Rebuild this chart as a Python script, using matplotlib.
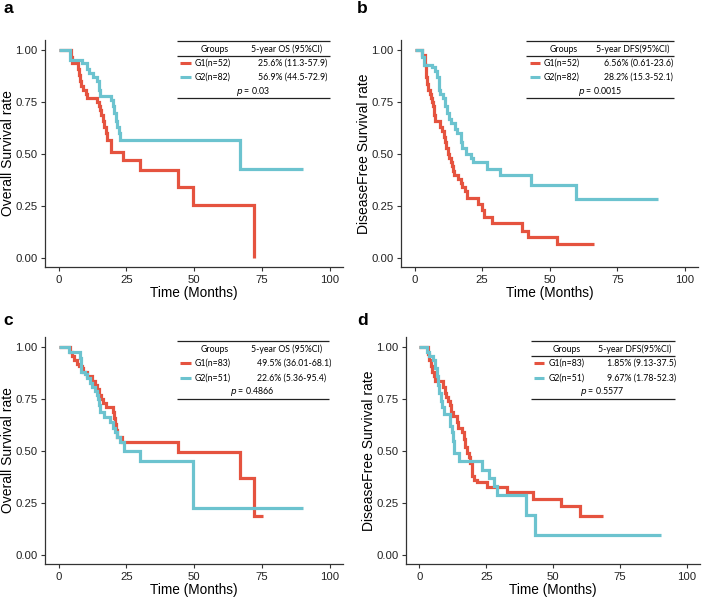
import matplotlib
matplotlib.use('Agg')
import matplotlib.pyplot as plt

# ---------- data ----------
red = '#E5533F'
cyan = '#6CC3CF'

# panel a : overall survival
a_g1_t = [0, 4.4, 4.8, 7.2, 7.6, 8.0, 8.4, 9.0, 10.0, 10.6, 14.0, 14.8, 15.3, 15.8, 16.3, 16.8, 17.3, 17.8, 19.2, 23.8, 30.0, 44.0, 49.6, 72.0]
a_g1_s = [1.0, 0.97, 0.94, 0.91, 0.88, 0.85, 0.83, 0.81, 0.79, 0.77, 0.75, 0.73, 0.71, 0.69, 0.66, 0.63, 0.60, 0.57, 0.51, 0.47, 0.425, 0.34, 0.256, 0.0]
a_g2_t = [0, 4.2, 8.5, 10.5, 11.3, 12.8, 14.0, 14.9, 15.3, 19.3, 19.9, 20.5, 21.1, 21.6, 22.2, 22.8, 67.0, 90.2]
a_g2_s = [1.0, 0.955, 0.94, 0.91, 0.89, 0.87, 0.85, 0.81, 0.78, 0.76, 0.73, 0.70, 0.66, 0.63, 0.60, 0.569, 0.427, 0.427]

# panel b : disease free survival
b_g1_t = [0, 2.8, 3.7, 4.1, 4.3, 4.7, 5.0, 5.7, 6.0, 6.4, 6.8, 7.1, 7.4, 9.6, 10.1, 10.8, 11.3, 11.8, 12.3, 12.7, 13.5, 13.9, 14.3, 14.6, 16.0, 17.0, 17.6, 18.5, 19.3, 23.6, 24.8, 25.6, 28.7, 39.6, 42.1, 52.6, 66.4]
b_g1_s = [1.0, 0.98, 0.93, 0.90, 0.87, 0.84, 0.81, 0.79, 0.77, 0.75, 0.73, 0.69, 0.66, 0.63, 0.61, 0.58, 0.56, 0.53, 0.50, 0.48, 0.46, 0.44, 0.42, 0.40, 0.38, 0.36, 0.34, 0.32, 0.29, 0.26, 0.23, 0.195, 0.165, 0.13, 0.10, 0.065, 0.065]
b_g2_t = [0, 2.8, 3.4, 6.4, 7.4, 8.4, 8.9, 9.2, 9.6, 10.5, 11.3, 12.1, 12.9, 13.5, 14.8, 15.7, 17.0, 17.5, 19.1, 20.7, 21.5, 26.7, 31.7, 43.0, 59.7, 90.0]
b_g2_s = [1.0, 0.97, 0.93, 0.92, 0.90, 0.87, 0.84, 0.81, 0.79, 0.77, 0.73, 0.70, 0.67, 0.65, 0.62, 0.60, 0.56, 0.53, 0.50, 0.48, 0.46, 0.43, 0.40, 0.35, 0.282, 0.282]

# panel c : overall survival
c_g1_t = [0, 4.2, 4.8, 5.7, 6.9, 7.6, 8.5, 9.1, 10.6, 12.2, 13.4, 14.3, 15.0, 15.5, 16.2, 17.4, 19.9, 20.3, 20.8, 21.1, 21.6, 23.2, 44.1, 66.8, 72.0, 75.4]
c_g1_s = [1.0, 0.98, 0.96, 0.94, 0.92, 0.91, 0.90, 0.88, 0.86, 0.84, 0.82, 0.80, 0.77, 0.75, 0.73, 0.71, 0.69, 0.66, 0.63, 0.60, 0.57, 0.545, 0.493, 0.37, 0.185, 0.185]
c_g2_t = [0, 3.9, 7.9, 8.1, 9.7, 10.6, 11.5, 12.5, 13.4, 14.0, 14.4, 14.9, 15.2, 16.7, 18.9, 20.1, 20.8, 21.4, 22.6, 24.1, 30.0, 49.6, 90.2]
c_g2_s = [1.0, 0.98, 0.95, 0.88, 0.87, 0.85, 0.83, 0.81, 0.79, 0.77, 0.75, 0.72, 0.69, 0.665, 0.64, 0.61, 0.59, 0.57, 0.545, 0.50, 0.45, 0.225, 0.225]

# panel d : disease free survival
d_g1_t = [0, 3.1, 3.5, 4.3, 4.8, 5.5, 6.0, 8.8, 9.4, 10.0, 10.6, 11.3, 11.9, 12.5, 14.1, 14.6, 15.8, 16.5, 17.1, 17.6, 18.4, 19.0, 19.5, 19.8, 20.4, 21.4, 25.3, 32.9, 42.5, 52.9, 60.0, 68.4]
d_g1_s = [1.0, 0.97, 0.94, 0.91, 0.88, 0.86, 0.84, 0.81, 0.78, 0.76, 0.74, 0.72, 0.69, 0.67, 0.64, 0.61, 0.59, 0.56, 0.52, 0.49, 0.47, 0.44, 0.41, 0.38, 0.36, 0.35, 0.325, 0.30, 0.27, 0.235, 0.185, 0.185]
d_g2_t = [0, 2.7, 3.5, 5.1, 6.0, 6.5, 7.0, 7.5, 8.0, 8.4, 9.2, 11.3, 11.6, 12.1, 12.5, 12.9, 13.1, 14.9, 23.5, 25.9, 27.8, 29.0, 40.0, 43.1, 90.2]
d_g2_s = [1.0, 0.98, 0.96, 0.94, 0.90, 0.86, 0.82, 0.78, 0.74, 0.71, 0.68, 0.65, 0.62, 0.59, 0.55, 0.52, 0.49, 0.45, 0.41, 0.37, 0.33, 0.29, 0.19, 0.095, 0.095]

letters = ['a', 'b', 'c', 'd']
ylabels = ['Overall Survival rate', 'DiseaseFree Survival rate', 'Overall Survival rate', 'DiseaseFree Survival rate']
groups = [['G1(n=52)', 'G2(n=82)'], ['G1(n=52)', 'G2(n=82)'], ['G1(n=83)', 'G2(n=51)'], ['G1(n=83)', 'G2(n=51)']]
headers = ['5-year OS (95%CI)', '5-year DFS(95%CI)', '5-year OS (95%CI)', '5-year DFS(95%CI)']
rates = [['25.6% (11.3-57.9)', '56.9% (44.5-72.9)'],
         ['6.56% (0.61-23.6)', '28.2% (15.3-52.1)'],
         ['49.5% (36.01-68.1)', '22.6% (5.36-95.4)'],
         ['1.85% (9.13-37.5)', '9.67% (1.78-52.3)']]
pvals = ['0.03', '0.0015', '0.4866', '0.5577']

curves = [((a_g1_t, a_g1_s), (a_g2_t, a_g2_s)),
          ((b_g1_t, b_g1_s), (b_g2_t, b_g2_s)),
          ((c_g1_t, c_g1_s), (c_g2_t, c_g2_s)),
          ((d_g1_t, d_g1_s), (d_g2_t, d_g2_s))]

W, H = 708.0, 600.0
# axes boxes in pixels: left, top, right, bottom
boxes = [(45, 40, 343, 267), (401, 40, 698, 267), (45, 337, 343, 564), (406, 337, 700, 564)]
# table position (axes fraction): x0, x1, top line, header underline?
tables = [(0.442, 0.956, 0.996, True), (0.422, 0.920, 0.996, True),
          (0.442, 0.954, 0.981, False), (0.426, 0.914, 0.981, True)]
letter_pos = [(3, 13), (357, 13), (3, 325), (357, 325)]

tfont = 'Lato'
afont = 'Liberation Sans'


def draw_table(ax, k):
    x0, x1, top, hline = tables[k]
    w = x1 - x0
    tr = ax.transAxes
    lk = dict(transform=tr, clip_on=False, color='#222222', lw=0.9, solid_capstyle='butt')
    ax.plot([x0, x1], [top, top], **lk)
    ax.plot([x0, x1], [top - 0.252, top - 0.252], **lk)
    if hline:
        ax.plot([x0, x1], [top - 0.066, top - 0.066], **lk)
    fs = 6.3
    ax.text(x0 + 0.25 * w, top - 0.036, 'Groups', transform=tr, ha='center', va='center', fontsize=fs, family=tfont)
    ax.text(x0 + 0.72 * w, top - 0.036, headers[k], transform=tr, ha='center', va='center', fontsize=fs, family=tfont)
    for i, col in enumerate([red, cyan]):
        yy = top - 0.097 - i * 0.064
        ax.plot([x0 + 0.022 * w, x0 + 0.092 * w], [yy, yy], transform=tr, clip_on=False,
                color=col, lw=2.2, solid_capstyle='butt')
        ax.text(x0 + 0.12 * w, yy, groups[k][i], transform=tr, ha='left', va='center', fontsize=fs, family=tfont)
        ax.text(x0 + 0.528 * w, yy, rates[k][i], transform=tr, ha='left', va='center', fontsize=fs, family=tfont)
    ax.text(x0 + 0.495 * w, top - 0.222, r'$\it{p}$ = ' + pvals[k], transform=tr, ha='center', va='center',
            fontsize=fs, family=tfont)


def main():
    fig = plt.figure(figsize=(W / 100, H / 100), dpi=100)
    for k in range(4):
        l, t, r, b = boxes[k]
        ax = fig.add_axes([l / W, 1 - b / H, (r - l) / W, (b - t) / H])
        for (tt, ss), col in zip(curves[k], [red, cyan]):
            ax.step(tt, ss, where='post', color=col, lw=2.3, solid_capstyle='butt', solid_joinstyle='miter')
        ax.set_xlim(-5, 104.8)
        ax.set_ylim(-0.045, 1.05)
        ax.set_xticks([0, 25, 50, 75, 100])
        ax.set_yticks([0, 0.25, 0.5, 0.75, 1.0])
        ax.set_yticklabels(['0.00', '0.25', '0.50', '0.75', '1.00'])
        for s in ['top', 'right']:
            ax.spines[s].set_visible(False)
        for s in ['left', 'bottom']:
            ax.spines[s].set_color('#333333')
            ax.spines[s].set_linewidth(0.9)
        ax.tick_params(length=3, width=0.8, color='#333333', labelsize=8.2, labelcolor='#222222', pad=2.5)
        for lab in ax.get_xticklabels() + ax.get_yticklabels():
            lab.set_family(afont)
        ax.set_xlabel('Time (Months)', fontsize=9.8, family=afont, labelpad=1.0)
        ax.set_ylabel(ylabels[k], fontsize=10, family=afont, labelpad=0.3)
        draw_table(ax, k)
        lx, ly = letter_pos[k]
        fig.text(lx / W, 1 - ly / H, letters[k], fontsize=12.5, fontweight='bold', family=afont,
                 ha='left', va='baseline')
    fig.savefig('out.png', dpi=100)


main()
